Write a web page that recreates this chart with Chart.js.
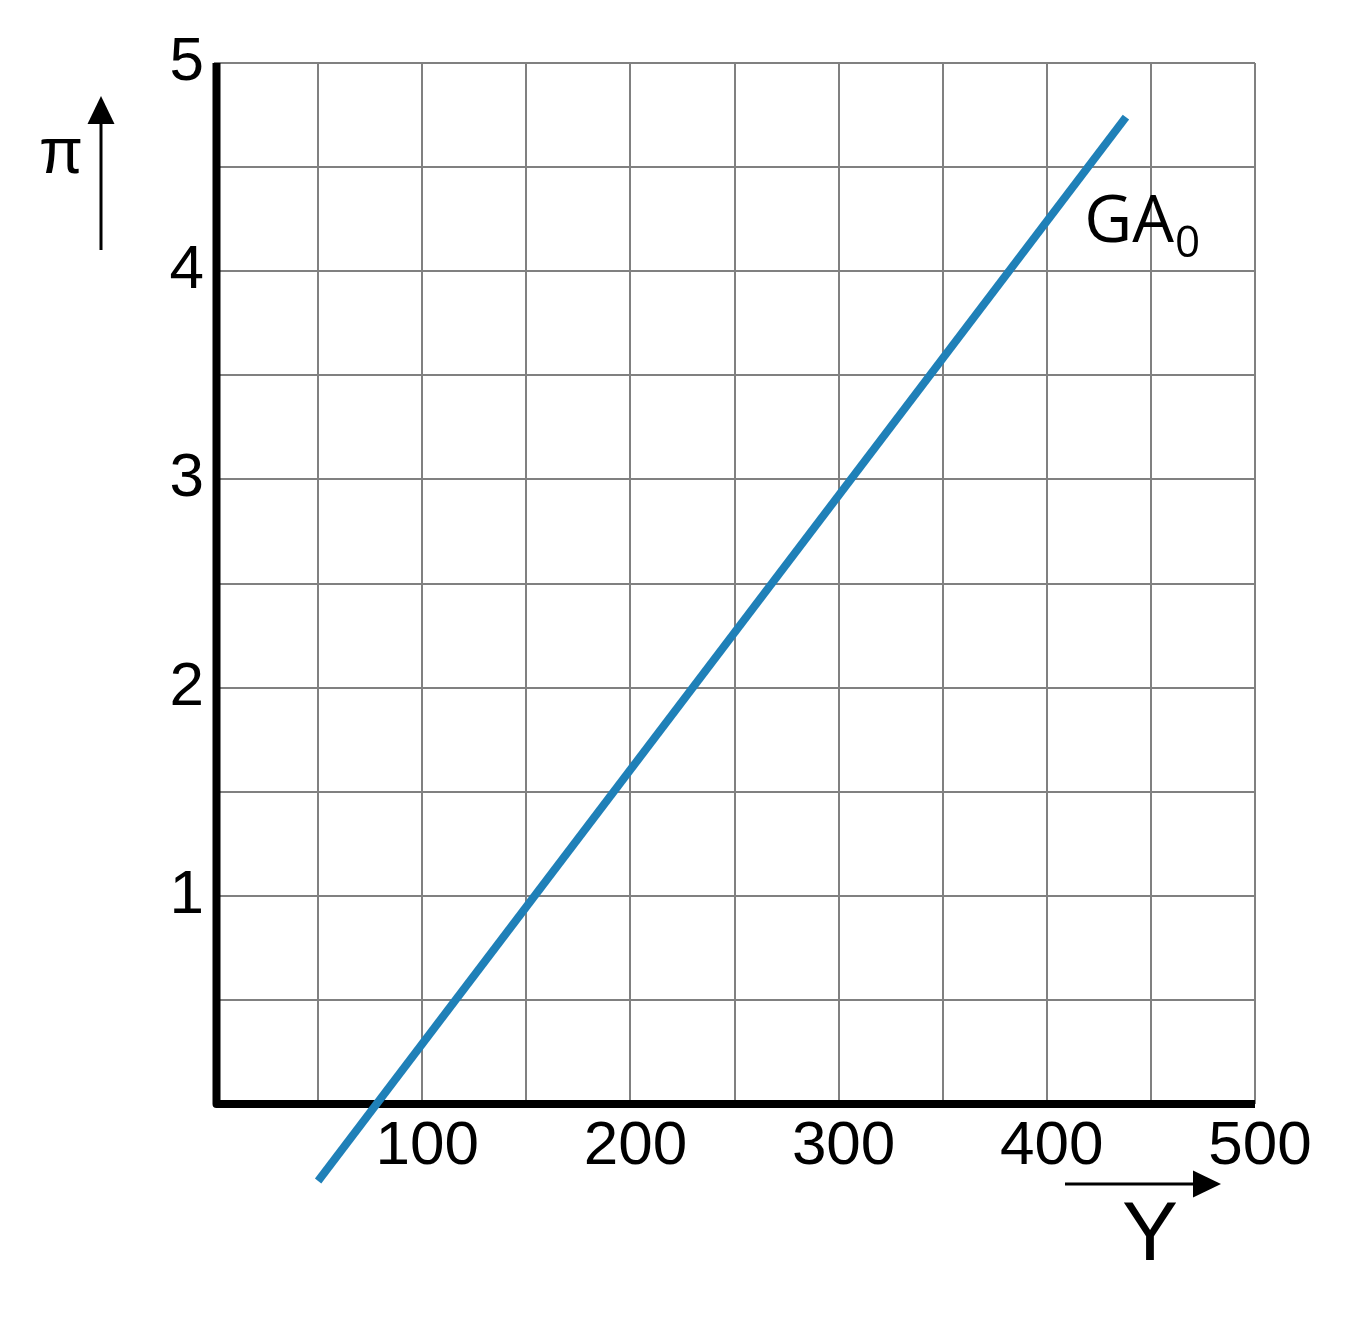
<!DOCTYPE html>
<html>
<head>
<meta charset="utf-8">
<script src="https://cdn.jsdelivr.net/npm/chart.js@4"></script>
<style>
  html, body { margin: 0; padding: 0; background: #fff; }
  canvas { display: block; }
</style>
</head>
<body>
<canvas id="chart" width="1356" height="1329"></canvas>
<script>
// GA0 line endpoints (Y, pi)
const lineY = [50, 438];
const linePi = [-0.37, 4.74];
// labelled ticks
const xTickLabels = [100, 200, 300, 400, 500];
const yTickLabels = [1, 2, 3, 4, 5];
const curveLabel = 'GA';
const curveSub = '0';

const tickFont = { family: '"Liberation Sans", Arial, sans-serif', size: 62 };

function arrow(ctx, x1, y1, x2, y2) {
  const ang = Math.atan2(y2 - y1, x2 - x1);
  const head = 28, half = 13.5;
  ctx.beginPath();
  ctx.moveTo(x1, y1);
  ctx.lineTo(x2 - head * Math.cos(ang), y2 - head * Math.sin(ang));
  ctx.stroke();
  ctx.beginPath();
  ctx.moveTo(x2, y2);
  ctx.lineTo(x2 - head * Math.cos(ang) - half * Math.sin(ang), y2 - head * Math.sin(ang) + half * Math.cos(ang));
  ctx.lineTo(x2 - head * Math.cos(ang) + half * Math.sin(ang), y2 - head * Math.sin(ang) - half * Math.cos(ang));
  ctx.closePath();
  ctx.fill();
}

const decorations = {
  id: 'decorations',
  beforeDatasetsDraw(chart) {
    const { ctx, chartArea: a } = chart;
    ctx.save();
    ctx.strokeStyle = '#000';
    ctx.lineWidth = 8;
    ctx.lineJoin = 'round';
    ctx.beginPath();
    ctx.moveTo(a.left + 2.5, a.top);
    ctx.lineTo(a.left + 2.5, a.bottom);
    ctx.lineTo(a.right, a.bottom);
    ctx.stroke();
    ctx.restore();
  },
  afterDraw(chart) {
    const { ctx, chartArea: a, scales } = chart;
    ctx.save();
    ctx.fillStyle = '#000';
    ctx.strokeStyle = '#000';
    ctx.lineWidth = 3;

    // pi axis arrow + label
    arrow(ctx, a.left - 113, a.top + 187, a.left - 113, a.top + 33);
    ctx.font = '64px "Liberation Sans", Arial, sans-serif';
    ctx.textAlign = 'center';
    ctx.textBaseline = 'alphabetic';
    ctx.fillText('\u03c0', a.left - 153, a.top + 110);

    // Y axis arrow + label
    arrow(ctx, a.left + 851, a.bottom + 80, a.left + 1007, a.bottom + 80);
    ctx.font = '84px "Liberation Sans", Arial, sans-serif';
    ctx.fillText('Y', a.left + 936, a.bottom + 156);

    // curve label
    const lx = scales.x.getPixelForValue(418);
    const ly = scales.y.getPixelForValue(4.14);
    ctx.textAlign = 'left';
    ctx.font = '66px "Open Sans", sans-serif';
    ctx.fillText(curveLabel, lx, ly);
    const w = ctx.measureText(curveLabel).width;
    ctx.font = '44px "Open Sans", sans-serif';
    ctx.fillText(curveSub, lx + w + 1, ly + 15);
    ctx.restore();
  }
};

new Chart(document.getElementById('chart'), {
  type: 'scatter',
  data: {
    datasets: [{
      label: 'GA0',
      data: lineY.map((y, i) => ({ x: y, y: linePi[i] })),
      showLine: true,
      borderColor: '#1f80b8',
      borderWidth: 8,
      borderCapStyle: 'butt',
      pointRadius: 0,
      clip: false
    }]
  },
  options: {
    responsive: false,
    animation: false,
    layout: { padding: { top: 63, right: 101, bottom: 125, left: 0 } },
    plugins: { legend: { display: false }, tooltip: { enabled: false } },
    scales: {
      x: {
        type: 'linear',
        min: 0,
        max: 500,
        afterFit: (s) => { s.height = 100; },
        border: { display: false },
        grid: { color: '#808080', lineWidth: 2, drawTicks: false },
        ticks: {
          stepSize: 50,
          padding: 6,
          labelOffset: 5,
          color: '#000',
          font: tickFont,
          maxRotation: 0,
          autoSkip: false,
          callback: (v) => (xTickLabels.includes(v) ? String(v) : '')
        }
      },
      y: {
        type: 'linear',
        min: 0,
        max: 5,
        afterFit: (s) => { s.width = 214; },
        border: { display: false },
        grid: { color: '#808080', lineWidth: 2, drawTicks: false },
        ticks: {
          stepSize: 0.5,
          padding: 10,
          color: '#000',
          font: tickFont,
          autoSkip: false,
          callback: (v) => (yTickLabels.includes(v) ? String(v) : '')
        }
      }
    }
  },
  plugins: [decorations]
});
</script>
</body>
</html>
